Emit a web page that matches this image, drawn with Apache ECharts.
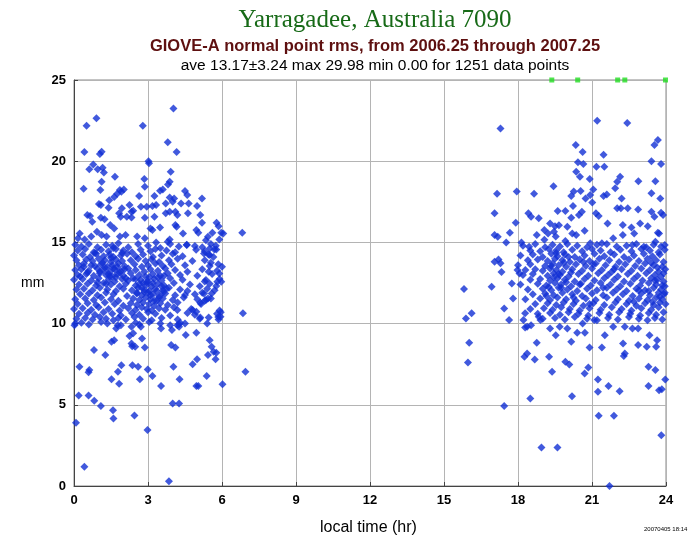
<!DOCTYPE html>
<html><head><meta charset="utf-8">
<script src="https://cdn.jsdelivr.net/npm/echarts@6/dist/echarts.min.js"></script>
<style>html,body{margin:0;padding:0;background:#fff}#c{width:697px;height:539px}</style>
</head><body><div id="c"></div>
<script>
const titleText = 'Yarragadee, Australia 7090';
const subtitleText = 'GIOVE-A normal point rms, from 2006.25 through 2007.25';
const statsText = 'ave 13.17\u00b13.24 max 29.98 min 0.00 for 1251 data points';
const xAxisTitle = 'local time (hr)';
const yAxisTitle = 'mm';
const stampText = '20070405 18:14';
const xTicks = [0, 3, 6, 9, 12, 15, 18, 21, 24];
const yTicks = [0, 5, 10, 15, 20, 25];

// morning pass (local time 0-7 hr): [hour, rms mm]
const morningOutliers = [
[4.03,23.25],[0.91,22.64],[0.51,22.19],[2.79,22.19],[3.80,21.16],[0.42,20.56],[4.16,20.56],[1.05,20.45],[1.12,20.58],
[3.02,19.99],[3.04,19.87],[0.78,19.8],[0.62,19.5],[0.96,19.5],[1.16,19.6],[1.21,19.3],[3.92,19.35],[1.66,19.05],
[2.85,18.9],[1.12,18.74],[3.88,18.74],[3.81,18.57],[2.87,18.43],[0.39,18.3],[1.07,18.22],[1.86,18.22],[2.02,18.26],
[1.92,18.12],[1.75,18.0],[4.5,18.16],[3.49,18.18],[3.6,18.26],[4.59,17.92],[1.63,17.8],[1.43,17.6],[2.64,17.85],
[3.26,17.85],[5.19,17.71],[3.88,17.77],[4.06,17.71],[4.0,17.5],[4.34,17.4],[4.65,17.4],[1.01,17.36],[1.09,17.3],
[1.40,17.14],[1.94,17.1],[2.25,17.3],[2.71,17.2],[2.95,17.2],[3.18,17.24],[3.33,17.3],[3.72,17.4],[4.99,17.24],
[2.33,16.89],[2.40,16.95],[2.87,16.52],[3.26,16.58],[0.54,16.68],[0.65,16.62],[0.74,16.27],[1.09,16.52],[1.24,16.42],
[1.47,16.07],[1.83,16.79],[1.89,16.58],[2.14,16.58],[2.33,16.54],[3.72,16.79],[3.88,16.89],[4.11,16.89],[4.19,16.68],
[4.62,16.79],[5.12,16.68],[5.78,16.21],[5.86,16.0],[5.19,16.21],[4.96,15.76],[5.04,15.6],[5.97,15.6],[5.61,15.6],
[6.82,15.6],[3.10,15.86],[3.18,15.76],[3.49,15.92],[4.11,16.07],[4.16,15.96],[4.42,15.55],[1.63,15.86],[0.23,15.55],
[0.16,15.25],[0.43,15.18],[0.70,15.37],[0.93,15.66],[1.12,15.45],[1.32,15.37],[1.86,15.37],[2.09,15.45],[2.56,15.37],
[2.87,15.25],[3.33,15.0],[3.80,15.04],[3.88,15.18],[4.57,14.84],[4.9,14.78],[5.35,15.14],[5.43,15.35],[5.5,14.63],
[0.02,9.9],[1.77,9.9],[1.71,9.7],[2.33,9.8],[2.4,9.4],[2.25,9.23],[2.71,9.8],[3.53,9.7],[3.97,9.6],[4.19,9.9],
[4.26,9.8],[4.53,9.3],[4.96,9.44],[5.5,8.98],[5.58,8.57],[5.66,8.27],[5.77,8.2],[5.74,7.8],[5.43,8.06],[4.99,7.8],
[4.81,7.5],[5.38,6.77],[6.02,6.27],[4.96,6.15],[5.04,6.15],[4.28,6.58],[4.03,7.34],[3.94,8.68],[4.11,8.53],[3.53,6.15],
[3.18,6.77],[2.99,7.18],[2.67,6.58],[2.60,7.34],[2.37,7.44],[2.87,8.53],[2.76,9.09],[2.33,8.78],[2.36,8.61],[2.48,8.57],
[1.92,7.44],[1.78,7.03],[1.83,6.29],[1.52,6.58],[1.52,8.88],[1.63,8.98],[1.27,8.06],[0.81,8.37],[0.62,7.14],[0.59,7.0],
[0.22,7.34],[0.19,5.57],[0.59,5.57],[0.82,5.25],[1.09,4.92],[1.58,4.67],[1.6,4.16],[2.45,4.34],[2.98,3.45],[0.08,3.89],
[0.42,1.18],[3.85,0.3],[4.0,5.08],[4.26,5.08],[6.85,10.63],[6.95,7.03],[5.94,10.42],[5.86,10.26],[5.46,10.38],[5.12,10.38],
[4.96,10.73],[4.5,10.0],[4.26,9.96],[4.19,10.83],[4.81,10.83],[5.12,11.28],[5.35,11.45],[5.43,11.55],[5.58,11.86],[5.27,11.86],
[4.5,11.76],[5.81,12.58],[5.89,13.09],[5.97,12.58],[5.77,12.31],[5.35,12.68],[5.46,13.2],[5.55,13.75],[5.27,14.32],[5.5,14.22],
[5.69,14.57],[5.77,14.57],[5.89,15.18],[6.05,15.55]
];
const morningCore = [
[0.05,14.85],[0.3,14.75],[0.6,14.9],[0.95,14.7],[1.3,14.85],[1.55,14.8],[1.8,14.95],[2.2,14.7],[2.6,14.9],[3.0,14.8],[3.5,14.65],[3.9,14.9],[4.25,14.75],[4.57,14.85],[5.2,14.7],[5.55,14.9],[5.75,14.8],
[0.15,14.5],[0.45,14.6],[0.8,14.4],[1.1,14.55],[1.4,14.45],[1.7,14.6],[2.0,14.5],[2.35,14.4],[2.7,14.55],[3.1,14.45],[3.3,14.6],[3.75,14.5],[4.1,14.4],[4.95,14.55],[5.3,14.45],
[0.0,14.2],[0.35,14.25],[0.65,14.1],[0.9,14.3],[1.2,14.15],[1.45,14.25],[1.6,14.1],[1.9,14.2],[2.15,14.3],[2.5,14.15],[2.8,14.25],[3.2,14.1],[3.55,14.2],[4.0,14.3],[4.4,14.15],[5.45,14.25],[5.65,14.1],
[0.1,13.9],[0.5,13.95],[0.75,13.85],[1.0,14.0],[1.25,13.9],[1.5,13.8],[1.7,13.95],[1.95,13.85],[2.3,13.9],[2.6,14.0],[2.9,13.85],[3.15,13.95],[3.45,13.8],[3.85,13.9],[4.2,14.0],[4.8,13.85],[5.3,13.9],
[0.2,13.6],[0.4,13.7],[0.85,13.55],[1.1,13.65],[1.35,13.5],[1.55,13.6],[1.8,13.7],[2.05,13.55],[2.45,13.65],[2.75,13.5],[3.0,13.6],[3.3,13.7],[3.6,13.55],[3.95,13.65],[4.5,13.6],[5.5,13.55],[5.85,13.65],[6.0,13.5],
[0.05,13.3],[0.3,13.35],[0.6,13.25],[0.95,13.4],[1.2,13.3],[1.45,13.2],[1.65,13.35],[1.9,13.25],[2.2,13.4],[2.5,13.3],[2.85,13.2],[3.1,13.35],[3.4,13.25],[3.7,13.4],[4.1,13.3],[4.6,13.2],[5.2,13.35],[5.8,13.25],
[0.15,13.0],[0.5,13.05],[0.8,12.95],[1.05,13.1],[1.3,13.0],[1.55,12.9],[1.75,13.05],[2.0,12.95],[2.3,13.1],[2.65,13.0],[2.9,12.9],[3.2,13.05],[3.5,12.95],[3.8,13.1],[4.3,13.0],[5.0,12.95],[5.6,13.05],
[0.0,12.7],[0.35,12.75],[0.7,12.65],[1.0,12.8],[1.4,12.7],[1.65,12.6],[1.95,12.75],[2.2,12.65],[2.4,12.8],[2.7,12.7],[3.0,12.6],[3.25,12.75],[3.55,12.65],[3.9,12.8],[4.4,12.7],[5.3,12.6],[5.9,12.75],
[0.2,12.4],[0.55,12.45],[0.9,12.35],[1.2,12.5],[1.5,12.4],[1.85,12.3],[2.1,12.45],[2.5,12.35],[2.8,12.5],[2.95,12.4],[3.15,12.3],[3.4,12.45],[3.65,12.35],[4.05,12.5],[4.7,12.4],[5.1,12.3],[5.5,12.45],
[0.1,12.1],[0.4,12.15],[0.75,12.05],[1.05,12.2],[1.35,12.1],[1.7,12.0],[2.0,12.15],[2.35,12.05],[2.6,12.2],[2.85,12.1],[3.05,12.0],[3.3,12.15],[3.6,12.05],[3.85,12.2],[4.3,12.1],[4.6,12.0],[5.4,12.15],[5.7,12.05],
[0.25,11.8],[0.6,11.85],[0.95,11.75],[1.3,11.9],[1.6,11.8],[2.15,11.7],[2.55,11.85],[2.75,11.75],[3.0,11.9],[3.2,11.8],[3.45,11.7],[3.7,11.85],[4.1,11.75],[4.9,11.8],[5.2,11.9],
[0.05,11.5],[0.45,11.55],[0.8,11.45],[1.1,11.6],[1.5,11.5],[1.8,11.4],[2.4,11.55],[2.65,11.45],[2.9,11.6],[3.1,11.5],[3.35,11.4],[3.6,11.55],[4.0,11.45],[4.45,11.6],[5.0,11.5],[5.3,11.4],[5.55,11.55],
[0.15,11.2],[0.55,11.25],[0.9,11.15],[1.25,11.3],[1.65,11.2],[2.0,11.1],[2.3,11.25],[2.55,11.15],[2.8,11.3],[3.05,11.2],[3.25,11.1],[3.5,11.25],[3.8,11.15],[4.2,11.3],[5.15,11.2],
[0.0,10.9],[0.35,10.95],[0.7,10.85],[1.0,11.0],[1.4,10.9],[1.85,10.8],[2.2,10.95],[2.5,10.85],[2.75,11.0],[2.95,10.9],[3.15,10.8],[3.45,10.95],[3.7,10.85],[4.05,11.0],[4.75,10.9],[5.9,10.8],
[0.2,10.6],[0.55,10.65],[0.85,10.55],[1.2,10.7],[1.55,10.6],[1.9,10.5],[2.35,10.65],[2.65,10.55],[3.0,10.7],[3.3,10.6],[3.9,10.5],[4.6,10.65],[4.9,10.55],[5.8,10.6],[5.95,10.7],
[0.1,10.3],[0.45,10.35],[0.75,10.25],[1.05,10.4],[1.3,10.3],[1.6,10.2],[1.8,10.35],[2.1,10.25],[2.45,10.4],[2.8,10.3],[3.15,10.2],[3.55,10.35],[4.2,10.25],[5.1,10.3],[5.85,10.4],
[0.05,10.0],[0.3,10.05],[0.6,9.95],[1.1,10.1],[1.35,10.0],[1.9,9.9],[2.5,10.05],[2.65,9.95],[3.05,10.1],[3.5,10.0],[3.9,9.9],[4.3,10.05],[5.4,10.0],
[1.15,13.75],[1.25,13.45],[1.4,13.05],[1.5,14.05],[1.6,13.4],[1.7,12.85],[1.75,13.5],[1.85,13.15],[1.95,14.35],[1.05,13.2],[0.95,12.55],[1.3,12.45],[1.45,12.9],[2.05,13.35],[2.1,12.8],[2.75,12.2],[2.85,11.95],[2.95,12.55],[3.05,12.85],[3.1,11.75],[3.2,12.5],[3.25,11.4],[3.35,12.0],[3.4,12.85],[3.45,11.6],[3.55,12.3],[3.6,11.9],[3.65,12.95],[3.75,12.15],[2.65,12.45],[2.55,11.9],[2.5,12.75],[0.4,13.5],[0.55,13.15],[0.7,13.6],[0.25,12.9],[0.85,14.35],[1.6,14.65]
];

// evening pass (local time 15.8-24 hr)
const eveningOutliers = [
[17.29,22.02],[21.21,22.49],[22.43,22.35],[23.67,21.3],[23.53,21.0],[20.34,21.0],[20.62,20.56],[21.47,20.4],[23.41,19.99],
[23.8,19.83],[20.43,19.93],[20.65,19.83],[21.18,19.66],[21.5,19.66],[20.36,19.35],[20.51,19.05],[20.91,18.9],[19.44,18.45],
[22.14,19.05],[22.02,18.74],[22.88,18.76],[23.57,18.76],[21.94,18.33],[17.15,18.0],[17.95,18.14],[18.65,18.0],[20.26,18.14],
[20.54,18.16],[21.05,18.26],[23.41,18.02],[23.77,17.71],[20.16,17.85],[20.74,17.71],[20.93,17.92],[21.47,17.85],[21.6,17.95],
[22.2,17.71],[20.23,17.24],[21.01,17.45],[22.02,17.1],[22.17,17.1],[22.45,17.1],[17.05,16.79],[19.92,16.93],[19.61,16.93],
[20.16,16.52],[20.59,16.89],[20.47,16.68],[21.16,16.79],[21.27,16.62],[21.63,16.17],[22.87,17.03],[23.41,16.89],[23.53,16.58],
[23.8,16.83],[23.88,16.68],[18.42,16.79],[18.53,16.58],[18.84,16.48],[17.91,16.21],[19.3,16.17],[19.5,16.0],[19.66,16.05],
[19.07,15.76],[19.22,15.55],[19.46,15.66],[20.0,15.96],[20.7,15.72],[20.2,15.55],[20.36,15.45],[22.6,15.92],[22.95,16.17],
[23.26,16.0],[23.67,15.6],[22.25,16.07],[22.25,15.45],[22.71,15.55],[17.05,15.45],[17.18,15.35],[17.52,15.0],[17.67,15.6],
[18.14,15.0],[18.45,14.73],[18.76,15.45],[19.07,15.16],[19.53,15.37],[19.92,15.08],[20.93,14.94],[21.4,14.94],[21.86,15.25],
[22.64,14.84],[23.1,14.73],[23.57,15.04],[23.72,15.55],[23.95,14.84],[16.93,12.27],[15.81,12.13],[15.89,10.32],[16.12,10.63],
[16.02,8.82],[15.97,7.61],[17.05,13.81],[17.21,13.95],[17.29,13.71],[17.33,13.17],[17.44,10.93],[17.64,10.22],[17.44,4.92],
[17.75,12.47],[17.8,11.55],[17.98,13.3],[18.06,13.09],[18.29,10.63],[18.37,9.8],[18.26,7.96],[18.37,8.16],[18.76,8.82],
[18.68,7.79],[18.5,5.39],[18.95,2.37],[19.6,2.37],[19.26,7.96],[19.38,7.03],[19.53,9.29],[19.92,7.65],[20.08,7.48],
[20.19,5.53],[20.16,8.88],[20.4,9.44],[20.71,9.44],[20.7,6.93],[20.85,7.3],[20.9,8.53],[21.24,6.56],[21.24,5.8],
[21.27,4.32],[21.67,6.15],[21.89,4.32],[22.12,5.84],[21.71,0.0],[21.4,8.53],[21.52,9.29],[22.26,8.78],[22.29,8.0],
[22.33,8.16],[22.87,8.68],[23.22,8.57],[23.29,7.34],[23.29,6.15],[23.57,7.14],[23.6,8.57],[23.72,5.9],[23.83,5.95],
[23.97,6.56],[23.81,3.13],[23.33,9.29],[23.64,8.98],[22.64,9.7],[22.87,9.7],[21.86,9.8],[22.33,9.8],[21.09,10.22],
[20.62,10.01],[20.0,9.7],[19.69,9.8],[19.3,9.7],[18.91,10.22],[18.84,10.42],[18.53,9.9],[18.22,10.22],[18.29,9.76]
];
const eveningCore = [
[18.2,14.8],[18.7,14.9],[19.1,14.7],[19.4,14.85],[19.7,14.75],[20.0,14.9],[20.4,14.8],[20.8,14.7],[21.2,14.85],[21.6,14.9],[22.0,14.75],[22.4,14.8],[22.8,14.9],[23.2,14.7],[23.5,14.85],[23.8,14.75],
[18.5,14.5],[18.9,14.45],[19.25,14.6],[19.55,14.5],[19.85,14.4],[20.2,14.55],[20.6,14.45],[21.0,14.6],[21.35,14.5],[21.75,14.4],[22.15,14.55],[22.6,14.45],[23.0,14.6],[23.35,14.5],[23.7,14.4],[23.95,14.55],
[18.1,14.2],[18.6,14.25],[19.0,14.1],[19.35,14.3],[19.6,14.15],[19.9,14.25],[20.3,14.1],[20.7,14.2],[21.1,14.3],[21.5,14.15],[21.9,14.25],[22.3,14.1],[22.7,14.2],[23.1,14.3],[23.45,14.15],[23.75,14.25],
[18.4,13.9],[18.8,13.95],[19.2,13.85],[19.5,14.0],[19.8,13.9],[20.1,13.8],[20.5,13.95],[20.9,13.85],[21.3,14.0],[21.7,13.9],[22.1,13.8],[22.5,13.95],[22.9,13.85],[23.25,14.0],[23.6,13.9],[23.9,13.8],
[18.0,13.6],[18.5,13.65],[19.1,13.55],[19.4,13.7],[19.65,13.6],[19.95,13.5],[20.35,13.65],[20.75,13.55],[21.15,13.7],[21.55,13.6],[21.95,13.5],[22.35,13.65],[22.75,13.55],[23.15,13.7],[23.5,13.6],[23.85,13.5],
[18.3,13.3],[18.7,13.35],[19.0,13.25],[19.3,13.4],[19.55,13.3],[19.8,13.2],[20.2,13.35],[20.6,13.25],[21.0,13.4],[21.4,13.3],[21.8,13.2],[22.2,13.35],[22.6,13.25],[23.0,13.4],[23.35,13.3],[23.7,13.2],[23.97,13.35],
[18.2,13.0],[18.6,13.05],[19.2,12.95],[19.45,13.1],[19.7,13.0],[20.05,12.9],[20.45,13.05],[20.85,12.95],[21.25,13.1],[21.65,13.0],[22.05,12.9],[22.45,13.05],[22.85,12.95],[23.2,13.1],[23.55,13.0],[23.8,12.9],
[18.5,12.7],[18.9,12.75],[19.3,12.65],[19.6,12.8],[19.9,12.7],[20.3,12.6],[20.7,12.75],[21.1,12.65],[21.5,12.8],[21.9,12.7],[22.3,12.6],[22.7,12.75],[23.05,12.65],[23.4,12.8],[23.65,12.7],[23.9,12.6],
[18.1,12.4],[18.8,12.45],[19.15,12.35],[19.5,12.5],[19.75,12.4],[20.15,12.3],[20.55,12.45],[20.95,12.35],[21.35,12.5],[21.75,12.4],[22.15,12.3],[22.55,12.45],[22.95,12.35],[23.3,12.5],[23.6,12.4],[23.95,12.3],
[18.4,12.1],[19.0,12.15],[19.35,12.05],[19.65,12.2],[20.0,12.1],[20.4,12.0],[20.8,12.15],[21.2,12.05],[21.6,12.2],[22.0,12.1],[22.4,12.0],[22.8,12.15],[23.15,12.05],[23.5,12.2],[23.8,12.1],
[18.6,11.8],[19.1,11.85],[19.45,11.75],[19.8,11.9],[20.2,11.8],[20.6,11.7],[21.0,11.85],[21.45,11.75],[21.85,11.9],[22.25,11.8],[22.65,11.7],[23.0,11.85],[23.35,11.75],[23.7,11.9],[23.92,11.8],
[18.3,11.5],[18.9,11.55],[19.3,11.45],[19.6,11.6],[19.95,11.5],[20.35,11.4],[20.75,11.55],[21.15,11.45],[21.6,11.6],[22.05,11.5],[22.5,11.4],[22.9,11.55],[23.25,11.45],[23.6,11.6],[23.85,11.5],
[18.7,11.2],[19.2,11.25],[19.55,11.15],[19.85,11.3],[20.25,11.2],[20.65,11.1],[21.05,11.25],[21.5,11.15],[21.95,11.3],[22.4,11.2],[22.8,11.1],[23.15,11.25],[23.5,11.15],[23.75,11.3],[23.98,11.2],
[18.5,10.9],[19.05,10.95],[19.4,10.85],[19.75,11.0],[20.1,10.9],[20.5,10.8],[20.9,10.95],[21.35,10.85],[21.8,11.0],[22.2,10.9],[22.6,10.8],[23.0,10.95],[23.4,10.85],[23.7,11.0],
[18.8,10.6],[19.3,10.65],[19.7,10.55],[20.05,10.7],[20.45,10.6],[20.85,10.5],[21.3,10.65],[21.7,10.55],[22.1,10.7],[22.55,10.6],[22.95,10.5],[23.3,10.65],[23.6,10.55],[23.9,10.7],
[19.0,10.3],[19.5,10.35],[19.9,10.25],[20.3,10.4],[20.8,10.3],[21.2,10.2],[21.65,10.35],[22.05,10.25],[22.5,10.4],[22.9,10.3],[23.25,10.2],[23.55,10.35],[23.85,10.25],
[19.35,13.55],[19.45,12.85],[19.55,14.35],[19.65,13.05],[19.75,12.2],[19.85,13.75],[19.95,12.55],[20.05,14.1],[20.15,13.15],[20.25,11.6],[20.5,12.4],[20.65,13.8],[19.25,12.25],[19.15,11.7],[23.3,12.0],[23.45,11.35],[23.55,12.65],[23.65,13.45],[23.75,11.65],[23.85,12.35],[23.9,13.1],[23.95,11.9],[23.4,13.75],[22.9,12.05],[22.7,11.35],[21.9,13.35],[21.45,12.2],[21.05,13.65],[20.9,11.2]
];

// values above the 25 mm plot ceiling, drawn at the top edge
const clippedPts = [[19.37,25],[20.42,25],[22.04,25],[22.33,25],[23.98,25]];

const blue = '#1230d4';
const chart = echarts.init(document.getElementById('c'), null, {renderer:'canvas'});
chart.setOption({
  animation:false,
  backgroundColor:'#fff',
  title:[
    {text:titleText,left:370,top:3,textAlign:'center',textStyle:{fontFamily:'Liberation Serif',fontSize:25,fontWeight:'normal',color:'#176a17'}},
    {text:subtitleText,left:370,top:33,textAlign:'center',textStyle:{fontFamily:'Liberation Sans',fontSize:16.5,fontWeight:'bold',color:'#5e1010'}},
    {text:statsText,left:370,top:53,textAlign:'center',textStyle:{fontFamily:'Liberation Sans',fontSize:15.5,fontWeight:'normal',color:'#000'}}
  ],
  grid:{left:74,right:31,top:80,bottom:53,show:true,borderColor:'#888',borderWidth:1},
  xAxis:{type:'value',min:0,max:24,interval:3,
    axisLine:{show:true,lineStyle:{color:'#444'}},
    axisTick:{show:true,inside:true,length:4,lineStyle:{color:'#444'}},
    axisLabel:{color:'#000',fontWeight:'bold',fontFamily:'Liberation Sans',fontSize:13,margin:8,formatter:v=>xTicks.includes(v)?String(v):''},
    splitLine:{show:true,lineStyle:{color:'#b4b4b4'}}},
  yAxis:{type:'value',min:0,max:25,interval:5,
    axisLine:{show:true,lineStyle:{color:'#444'}},
    axisTick:{show:true,inside:true,length:4,lineStyle:{color:'#444'}},
    axisLabel:{color:'#000',fontWeight:'bold',fontFamily:'Liberation Sans',fontSize:13,margin:8,formatter:v=>yTicks.includes(v)?String(v):''},
    splitLine:{show:true,lineStyle:{color:'#b4b4b4'}}},
  graphic:[
    {type:'text',left:21,top:276,style:{text:yAxisTitle,font:'14px "Liberation Sans"',fill:'#000'}},
    {type:'text',left:320,top:520,style:{text:xAxisTitle,font:'16px "Liberation Sans"',fill:'#000'}},
    {type:'text',left:644,top:526,style:{text:stampText,font:'6px "Liberation Sans"',fill:'#000'}}
  ],
  series:[
    {type:'scatter',symbol:'diamond',symbolSize:8,itemStyle:{color:blue},data:morningCore.concat(morningOutliers)},
    {type:'scatter',symbol:'diamond',symbolSize:8,itemStyle:{color:blue},data:eveningCore.concat(eveningOutliers)},
    {type:'scatter',symbol:'rect',symbolSize:5,itemStyle:{color:'#22dd22'},data:clippedPts,clip:false}
  ]
});
</script>
</body></html>
